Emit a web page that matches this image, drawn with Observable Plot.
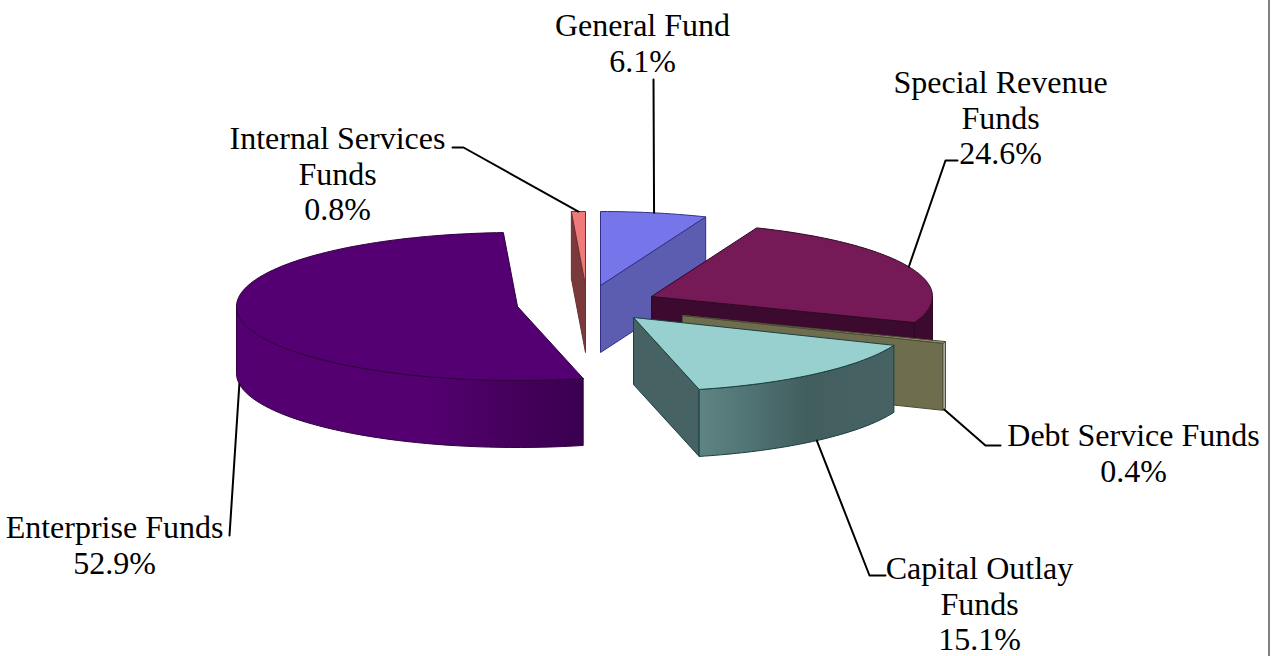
<!DOCTYPE html>
<html>
<head>
<meta charset="utf-8">
<script src="https://cdn.jsdelivr.net/npm/d3@7"></script>
<script src="https://cdn.jsdelivr.net/npm/@observablehq/plot@0.6"></script>
<style>
html,body{margin:0;padding:0;background:#fff;overflow:hidden}
svg{display:block}
</style>
</head>
<body>
<div id="chart"></div>
<script>
// Data
const funds = ["General Fund", "Special Revenue Funds", "Debt Service Funds", "Capital Outlay Funds", "Enterprise Funds", "Internal Services Funds"];
const shares = [6.1, 24.6, 0.4, 15.1, 52.9, 0.8];
const labelLines = ["General Fund", "Special Revenue\nFunds", "Debt Service Funds", "Capital Outlay\nFunds", "Enterprise Funds", "Internal Services\nFunds"];

// Styles
const topColors = ["#7676ea", "#751a56", "#9c9c78", "#98d0d0", "#550072", "#f07a7a"];
const edgeColors = ["#30308a", "#300826", "#4c4c34", "#1c4040", "#30003f", "#6a3030"];
const sideColors = ["#5c5cb0", "#3c0a2e", "#6e6e4e", "#476262", "#550072", "#7a3a3c"];
const rimColors = ["#5c5cb0", "#3c0a2e", "#b0b0a0", "url(#rimCapital)", "url(#rimEnterprise)", "#7a3a3c"];

// Layout: apex of each exploded slice, label block centre, leader elbow
const W = 1279, H = 656, RX = 281, RY = 74, DEPTH = 67;
const apexX = [600, 651, 682, 633, 517, 585];
const apexY = [285, 296, 315, 317, 306, 285];
const labelX = [642, 1000, 1133, 979, 114, 337];
const labelY = [42, 117, 452, 603, 544, 173];
const elbowX = [[653], [957, 945], [1000, 985], [885, 869], [229], [452, 463]];
const elbowY = [[79], [160, 160], [445, 445], [575, 575], [535], [147, 147]];
const rimBelow = [false, false, true, true, true, false];

const arcs = d3.pie().sort(null).startAngle(0).endAngle(2 * Math.PI)(shares);
const pt = (i, a, r = 1, d = 0) => ({
  x: apexX[i] + r * RX * Math.sin(a),
  y: apexY[i] - r * RY * Math.cos(a) + d
});
const closed = (p) => [...p, p[0]];
const face = (pts, fill, stroke) =>
  Plot.line(closed(pts), {x: "x", y: "y", fill, stroke, strokeWidth: 1, curve: "linear", strokeLinejoin: "round"});

const marks = [];
marks.push(() => {
  const defs = d3.create("svg:defs");
  const grad = (id, stops) => {
    const g = defs.append("linearGradient").attr("id", id).attr("x1", 0).attr("x2", 1).attr("y1", 0).attr("y2", 0);
    stops.forEach(([o, c]) => g.append("stop").attr("offset", o).attr("stop-color", c));
  };
  grad("rimCapital", [[0, "#5f8484"], [0.25, "#517474"], [0.55, "#425e5e"], [1, "#466262"]]);
  grad("rimEnterprise", [[0, "#550072"], [0.55, "#540070"], [0.8, "#45005c"], [1, "#3a0050"]]);
  return defs.node();
});

marks.push(Plot.ruleX([1268.5], {stroke: "#808080", strokeWidth: 2}));

const leaderRows = [];
arcs.forEach((arc, i) => {
  const mid = (arc.startAngle + arc.endAngle) / 2;
  const end = pt(i, mid, 1, rimBelow[i] ? DEPTH : 0);
  const path = elbowX[i].map((x, k) => ({x, y: elbowY[i][k], i}));
  leaderRows.push(...path, {...end, i});
});

const order = arcs.map((_, i) => i).sort((a, b) => {
  const rank = [2, 3, 4, 5, 0, 1];
  return rank[a] - rank[b];
});

for (const i of order) {
  const {startAngle: a, endAngle: b} = arcs[i];
  // radial walls that face the viewer
  for (const ang of [a, b]) {
    const visible = ang === b ? Math.sin(ang) > 1e-6 : Math.sin(ang) < -1e-6;
    if (visible) {
      marks.push(face([pt(i, ang, 0), pt(i, ang, 1), pt(i, ang, 1, DEPTH), pt(i, ang, 0, DEPTH)], sideColors[i], edgeColors[i]));
    }
  }
  // curved rim on the front half
  const lo = Math.max(a, Math.PI / 2), hi = Math.min(b, 1.5 * Math.PI);
  if (hi > lo) {
    const steps = d3.range(0, 49).map((k) => lo + (hi - lo) * k / 48);
    marks.push(face([...steps.map((t) => pt(i, t)), ...steps.slice().reverse().map((t) => pt(i, t, 1, DEPTH))], rimColors[i], edgeColors[i]));
  }
  // top face
  const n = Math.max(2, Math.round((b - a) * 40));
  const top = d3.range(0, n + 1).map((k) => pt(i, a + (b - a) * k / n));
  marks.push(face([pt(i, a, 0), ...top], topColors[i], edgeColors[i]));
}

marks.push(Plot.line(leaderRows, {x: "x", y: "y", z: "i", stroke: "#000", strokeWidth: 2, curve: "linear"}));

const labels = funds.map((f, i) => ({
  text: `${labelLines[i]}\n${shares[i].toFixed(1)}%`,
  x: labelX[i],
  y: labelY[i]
}));
marks.push(Plot.text(labels, {
  x: "x", y: "y", text: "text",
  fontFamily: "Liberation Serif", fontSize: 32, lineHeight: 1.11,
  lineAnchor: "middle", textAnchor: "middle", fill: "#000"
}));

const plot = Plot.plot({
  width: W, height: H,
  margin: 0,
  x: {domain: [0, W], range: [0, W], axis: null},
  y: {domain: [0, H], range: [0, H], axis: null},
  style: {background: "#fff"},
  marks
});
document.getElementById("chart").append(plot);
</script>
</body>
</html>
